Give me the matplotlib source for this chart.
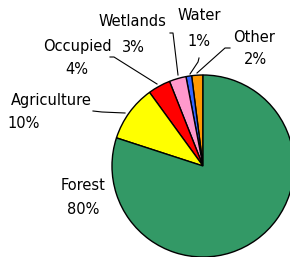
import matplotlib
matplotlib.use("Agg")
import matplotlib.pyplot as plt

categories = ["Other", "Water", "Wetlands", "Occupied", "Agriculture", "Forest"]
values = [2, 1, 3, 4, 10, 80]
pct_labels = ["2%", "1%", "3%", "4%", "10%", "80%"]
colors = ["#FF9900", "#3366FF", "#FF99CC", "#FF0000", "#FFFF00", "#339966"]

W, H = 290, 257
CX, CY, R = 203, 166, 91

def px(x, y):
    return ((x - CX) / R, (CY - y) / R)

fig = plt.figure(figsize=(W / 100, H / 100), dpi=100)
ax = fig.add_axes([0, 0, 1, 1])
ax.pie(values, colors=colors, startangle=90, counterclock=True,
       wedgeprops=dict(edgecolor="black", linewidth=1.0), radius=1.0)
ax.set_xlim(-CX / R, (W - CX) / R)
ax.set_ylim((CY - H) / R, CY / R)
ax.set_aspect("equal")
ax.axis("off")

font = dict(family="DejaVu Sans", fontsize=10.5, color="black", ha="center", va="center")

# label text positions (pixel coords)
text_items = [
    ("Other", 254, 37), ("2%", 255, 60),
    ("Water", 199, 15), ("1%", 199, 41),
    ("Wetlands", 132, 22), ("3%", 133, 47),
    ("Occupied", 77, 47), ("4%", 77, 70),
    ("Agriculture", 51, 100), ("10%", 24, 123),
    ("Forest", 83, 185), ("80%", 83, 210),
]
for t, x, y in text_items:
    ax.text(*px(x, y), t, **font)

leaders = [
    [(230, 48), (225, 48), (197, 73)],
    [(199, 58), (198, 62), (190, 74)],
    [(170, 33), (173, 33), (178, 75)],
    [(110, 57), (114, 57), (157, 84)],
    [(93, 111), (102, 112), (125, 113)],
]
for pts in leaders:
    xs, ys = zip(*[px(x, y) for x, y in pts])
    ax.plot(xs, ys, color="black", linewidth=0.8)

fig.savefig("out.png", dpi=100)
